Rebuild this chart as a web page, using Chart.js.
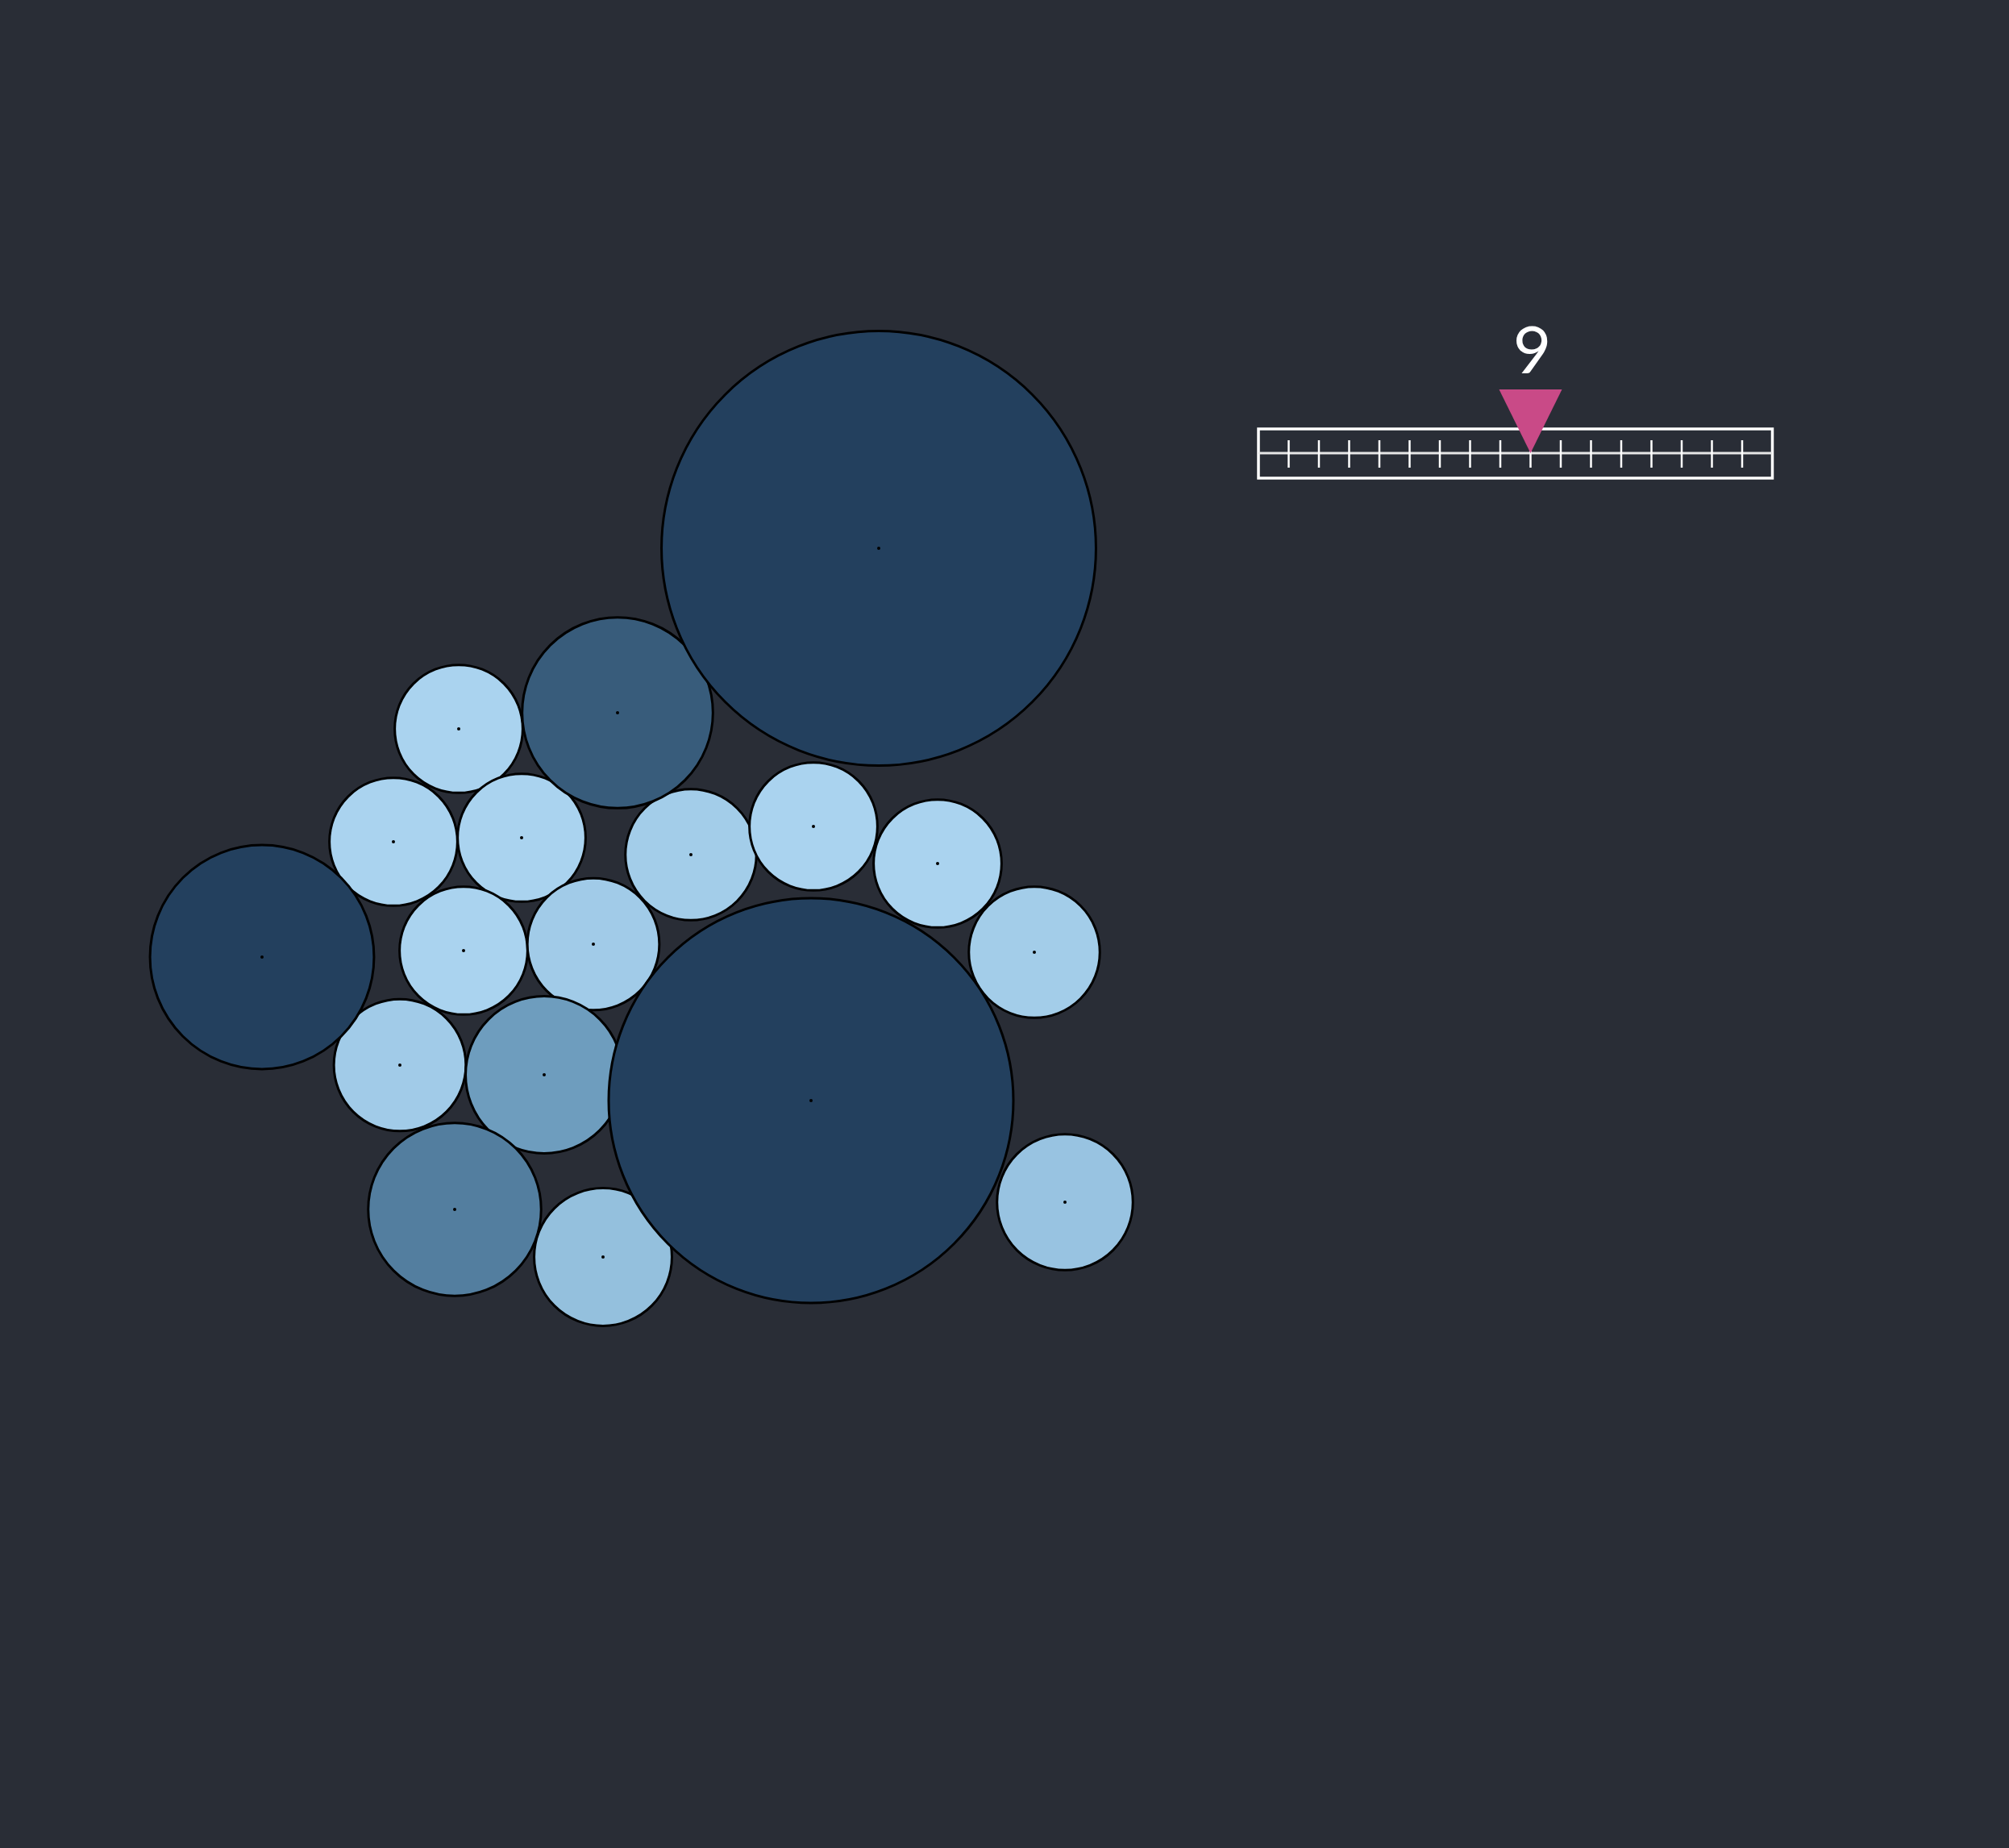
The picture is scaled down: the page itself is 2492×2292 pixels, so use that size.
<!DOCTYPE html>
<html>
<head>
<meta charset="utf-8">
<script src="https://cdn.jsdelivr.net/npm/chart.js@4.4.1/dist/chart.umd.min.js"></script>
<style>
  html, body { margin: 0; padding: 0; background: #292d36; overflow: hidden; }
  #wrap { position: relative; width: 2492px; height: 2292px; }
</style>
</head>
<body>
<div id="wrap"><canvas id="bubbles"></canvas></div>
<script>
// bubble positions (layout units, 1 unit = 10px) and sizes (radius = sqrt(size))
const bubbleX = [56.9, 48.8, 64.7, 57.5, 49.6, 85.7, 100.9, 116.3, 128.3, 73.6, 132.1, 74.8, 67.5, 56.4, 76.6, 32.5, 109.0, 100.6];
const bubbleY = [90.4, 104.4, 103.9, 117.9, 132.1, 106.0, 102.5, 107.1, 118.1, 117.1, 149.1, 155.9, 133.3, 150.0, 88.4, 118.7, 68.0, 136.5];
const bubbleSize = [63, 63, 63, 63, 67, 66, 63, 63, 66, 67, 71, 73, 95, 115, 140, 193, 726, 630];

// slider
const steps = [1, 2, 3, 4, 5, 6, 7, 8, 9, 10, 11, 12, 13, 14, 15, 16];
const currentStep = 9;

const X_RANGE = 249.2;
const Y_RANGE = 229.2;
const PX_PER_UNIT = 2492 / X_RANGE;

const LIGHT = [170, 211, 239];
const MID = [100, 148, 182];
const DARK = [35, 64, 94];

const lerp = (a, b, t) => a.map((v, i) => Math.round(v + (b[i] - v) * t));

// log colour scale from smallest value to saturation
const colorFor = (v) => {
    const min = Math.min(...bubbleSize);
    let t = Math.log(v / min) / Math.log(2.6);
    t = Math.max(0, Math.min(1, t));
    const c = t < 0.5 ? lerp(LIGHT, MID, t / 0.5) : lerp(MID, DARK, (t - 0.5) / 0.5);
    return `rgb(${c[0]}, ${c[1]}, ${c[2]})`;
};

const bubblePoints = bubbleX.map((x, i) => ({
    x: x,
    y: bubbleY[i],
    r: Math.sqrt(bubbleSize[i]) * PX_PER_UNIT,
}));
const centrePoints = bubbleX.map((x, i) => ({ x: x, y: bubbleY[i], r: 2 }));
const bubbleColors = bubbleSize.map(colorFor);

const sliderPlugin = {
    id: "slider",
    afterDraw(chart) {
        const ctx = chart.ctx;
        const x0 = 1561, unit = 37.5;
        const px = (v) => x0 + v * unit;
        const top = 532, bottom = 593, mid = 562;
        const lo = 0, hi = steps.length + 1;

        ctx.save();
        ctx.strokeStyle = "#ffffff";
        ctx.lineWidth = 3.5;
        ctx.strokeRect(px(lo), top, px(hi) - px(lo), bottom - top);

        ctx.beginPath();
        ctx.moveTo(px(lo), mid);
        ctx.lineTo(px(hi), mid);
        ctx.lineWidth = 3;
        ctx.strokeStyle = "#e6e6e6";
        ctx.stroke();

        ctx.strokeStyle = "#ffffff";
        ctx.lineWidth = 2.5;
        steps.forEach((s) => {
            ctx.beginPath();
            ctx.moveTo(px(s), 546);
            ctx.lineTo(px(s), 580);
            ctx.stroke();
        });

        const cx = px(currentStep);
        ctx.beginPath();
        ctx.moveTo(cx - 39, 483);
        ctx.lineTo(cx + 39, 483);
        ctx.lineTo(cx, 562);
        ctx.closePath();
        ctx.fillStyle = "#c94a87";
        ctx.fill();

        ctx.fillStyle = "#ffffff";
        ctx.font = "82px Lato";
        ctx.textAlign = "center";
        ctx.textBaseline = "alphabetic";
        ctx.fillText(String(currentStep), cx + 2, 463);
        ctx.restore();
    },
};

new Chart(document.getElementById("bubbles"), {
    type: "bubble",
    data: {
        datasets: [
            {
                label: "centres",
                data: centrePoints,
                backgroundColor: "#000000",
                borderWidth: 0,
                clip: false,
            },
            {
                label: "bubbles",
                data: bubblePoints,
                backgroundColor: bubbleColors,
                borderColor: "#000000",
                borderWidth: 3,
                clip: false,
            },
        ],
    },
    options: {
        responsive: true,
        maintainAspectRatio: false,
        devicePixelRatio: 1,
        animation: false,
        events: [],
        layout: { padding: 0, autoPadding: false },
        scales: {
            x: { type: "linear", min: 0, max: X_RANGE, display: false },
            y: { type: "linear", min: 0, max: Y_RANGE, reverse: true, display: false },
        },
        plugins: {
            legend: { display: false },
            tooltip: { enabled: false },
        },
    },
    plugins: [sliderPlugin],
});
</script>
</body>
</html>
